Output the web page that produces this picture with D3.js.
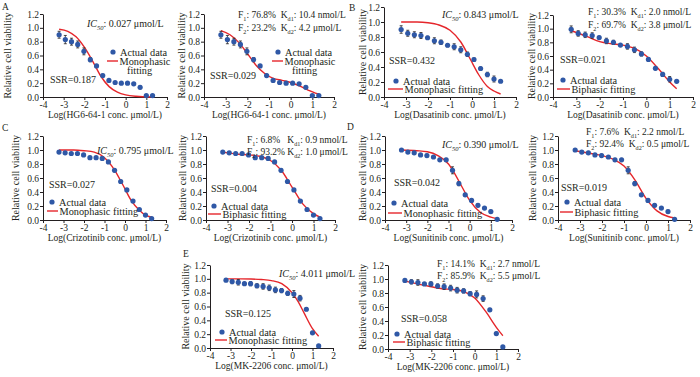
<!DOCTYPE html>
<html>
<head>
<meta charset="utf-8">
<script src="https://cdn.jsdelivr.net/npm/d3@7"></script>
<style>
body { margin: 0; background: #fff; }
text { font-family: "Liberation Serif", "Times New Roman", serif; fill: #231f20; }
</style>
</head>
<body>
<svg id="chart" width="700" height="377"></svg>
<script>
// log10 of concentration (umol/L), 2-fold dilutions
const logConc = [-3.22, -2.92, -2.62, -2.32, -2.02, -1.71, -1.41, -1.11, -0.81, -0.51, -0.21, 0.09, 0.39, 0.70, 1.00, 1.30];
const xTicks = [-4, -3, -2, -1, 0, 1, 2];
const yTicks = [0, 0.2, 0.4, 0.6, 0.8, 1.0, 1.2];

// HG6-64-1
const hgViability = [0.90, 0.83, 0.80, 0.76, 0.66, 0.54, 0.45, 0.31, 0.24, 0.21, 0.20, 0.20, 0.19, 0.14, 0.02, 0.02];
const hgError = [0.05, 0.06, 0.05, 0.05, 0.05, 0.03, 0.02, 0.02, 0.01, 0.01, 0.01, 0.01, 0.01, 0.02, 0.01, 0.01];
const hgMonoFit = [[-3.22, 0.98], [-2.8, 0.95], [-2.4, 0.87], [-2.0, 0.72], [-1.6, 0.52], [-1.2, 0.30], [-0.8, 0.15], [-0.4, 0.07], [0, 0.03], [0.5, 0.01], [1.3, 0.0]];
const hgBiFit = [[-3.22, 0.96], [-2.8, 0.90], [-2.4, 0.79], [-2.0, 0.63], [-1.6, 0.46], [-1.2, 0.34], [-0.8, 0.27], [-0.4, 0.24], [0, 0.21], [0.4, 0.16], [0.8, 0.10], [1.3, 0.04]];

// Dasatinib (the biphasic panel is drawn on a shorter axis, values read from it)
const dasViability = [0.90, 0.85, 0.83, 0.82, 0.79, 0.75, 0.73, 0.69, 0.67, 0.63, 0.57, 0.50, 0.38, 0.30, 0.24, 0.21];
const dasError = [0.05, 0.04, 0.04, 0.04, 0.02, 0.04, 0.03, 0.02, 0.04, 0.04, 0.03, 0.02, 0.02, 0.03, 0.04, 0.01];
const dasMonoFit = [[-3.22, 1.0], [-2.5, 1.0], [-2.0, 0.99], [-1.5, 0.96], [-1.0, 0.89], [-0.5, 0.73], [-0.07, 0.5], [0.3, 0.30], [0.7, 0.14], [1.0, 0.08], [1.3, 0.04]];
const das2Viability = [0.99, 0.93, 0.91, 0.90, 0.87, 0.82, 0.80, 0.76, 0.74, 0.69, 0.63, 0.55, 0.42, 0.33, 0.26, 0.23];
const das2Error = [0.05, 0.04, 0.04, 0.04, 0.02, 0.04, 0.03, 0.02, 0.04, 0.04, 0.03, 0.02, 0.02, 0.03, 0.04, 0.01];
const dasBiFit = [[-3.22, 0.97], [-2.5, 0.88], [-2.0, 0.81], [-1.5, 0.78], [-1.0, 0.76], [-0.5, 0.71], [0, 0.60], [0.5, 0.42], [1.0, 0.22], [1.3, 0.12]];

// Crizotinib
const crizViability = [0.97, 0.96, 0.95, 0.95, 0.93, 0.89, 0.89, 0.88, 0.83, 0.71, 0.55, 0.43, 0.27, 0.15, 0.07, 0.02];
const crizError = [0.01, 0.01, 0.01, 0.01, 0.01, 0.02, 0.01, 0.02, 0.02, 0.02, 0.02, 0.01, 0.01, 0.01, 0.01, 0.01];
const crizMonoFit = [[-3.22, 1.0], [-2.5, 1.0], [-2.0, 0.99], [-1.5, 0.97], [-1.0, 0.89], [-0.5, 0.71], [-0.1, 0.5], [0.3, 0.28], [0.7, 0.14], [1.0, 0.07], [1.3, 0.04]];
const crizBiFit = [[-3.22, 0.97], [-2.5, 0.94], [-2.0, 0.93], [-1.5, 0.91], [-1.0, 0.85], [-0.5, 0.71], [0, 0.47], [0.5, 0.23], [1.0, 0.09], [1.3, 0.04]];

// Sunitinib
const suniViability = [1.0, 0.97, 0.96, 0.93, 0.92, 0.90, 0.86, 0.86, 0.71, 0.52, 0.36, 0.28, 0.21, 0.17, 0.12, 0.01];
const suniError = [0.01, 0.02, 0.02, 0.02, 0.02, 0.02, 0.02, 0.02, 0.05, 0.03, 0.02, 0.02, 0.02, 0.02, 0.02, 0.01];
const suniMonoFit = [[-3.22, 1.0], [-2.5, 0.99], [-2.0, 0.975], [-1.5, 0.92], [-1.0, 0.80], [-0.7, 0.66], [-0.41, 0.5], [0, 0.28], [0.5, 0.11], [1.0, 0.04], [1.3, 0.02]];
const suniBiFit = [[-3.22, 0.99], [-2.5, 0.95], [-2.0, 0.92], [-1.5, 0.87], [-1.0, 0.77], [-0.5, 0.57], [0, 0.31], [0.5, 0.13], [1.0, 0.05], [1.3, 0.03]];

// MK-2206
const mkViability = [0.98, 0.96, 0.95, 0.93, 0.93, 0.90, 0.89, 0.87, 0.84, 0.83, 0.79, 0.78, 0.72, 0.56, 0.22, 0.03];
const mkError = [0.01, 0.03, 0.04, 0.02, 0.03, 0.03, 0.04, 0.04, 0.04, 0.03, 0.03, 0.05, 0.04, 0.02, 0.02, 0.01];
const mkMonoFit = [[-3.22, 1.0], [-2.5, 1.0], [-2.0, 0.997], [-1.5, 0.99], [-1.0, 0.975], [-0.5, 0.93], [0, 0.80], [0.3, 0.67], [0.6, 0.5], [1.0, 0.28], [1.3, 0.17]];
const mkBiFit = [[-3.22, 0.97], [-2.5, 0.92], [-2.0, 0.89], [-1.5, 0.86], [-1.0, 0.85], [-0.5, 0.82], [0, 0.73], [0.5, 0.54], [1.0, 0.31], [1.3, 0.19]];

const NB = "\u00a0";

// layout of every panel: axis box, label positions
const panels = [
  { letter: "A", lp: [2, 10], xl: 43, xr: 167, yt: 14, yb: 97, ytx: 7,
    vals: hgViability, err: hgError, fit: hgMonoFit, drug: "HG6-64-1",
    notes: [[87, 27, [{ t: "IC", it: 1 }, { t: "50", sub: 1, it: 1 }, { t: ": 0.027 μmol/L" }]]],
    ssr: [50, 83, "SSR=0.187"], leg: [113, 52, 107, 118, 61], fitLabel: ["Monophasic", "fitting"] },
  { xl: 204, xr: 334, yt: 14, yb: 97, ytx: 181,
    vals: hgViability, err: hgError, fit: hgBiFit, drug: "HG6-64-1",
    notes: [[238, 18, [{ t: "F" }, { t: "1", sub: 1 }, { t: ": 76.8%" + NB + NB + "K" }, { t: "d1", sub: 1 }, { t: ": 10.4 nmol/L" }]],
            [238, 31, [{ t: "F" }, { t: "2", sub: 1 }, { t: ": 23.2%" + NB + NB + "K" }, { t: "d2", sub: 1 }, { t: ": 4.2 μmol/L" }]]],
    ssr: [210, 79, "SSR=0.029"], leg: [278, 52, 272, 283, 61], fitLabel: ["Monophasic", "fitting"] },
  { letter: "B", lp: [349, 11], xl: 384, xr: 516, yt: 7, yb: 97, ytx: 362,
    vals: dasViability, err: dasError, fit: dasMonoFit, drug: "Dasatinib",
    notes: [[442, 18, [{ t: "IC", it: 1 }, { t: "50", sub: 1, it: 1 }, { t: ": 0.843 μmol/L" }]]],
    ssr: [389, 64, "SSR=0.432"], leg: [396, 81, 388, 403, 89], fitLabel: ["Monophasic fitting"] },
  { xl: 553, xr: 693, yt: 15, yb: 97, ytx: 531,
    vals: das2Viability, err: das2Error, fit: dasBiFit, drug: "Dasatinib",
    notes: [[588, 15, [{ t: "F" }, { t: "1", sub: 1 }, { t: ": 30.3%" + NB + NB + "K" }, { t: "d1", sub: 1 }, { t: ": 2.0 nmol/L" }]],
            [588, 28, [{ t: "F" }, { t: "2", sub: 1 }, { t: ": 69.7%" + NB + NB + "K" }, { t: "d2", sub: 1 }, { t: ": 3.8 μmol/L" }]]],
    ssr: [560, 63, "SSR=0.021"], leg: [563, 80, 557, 570, 89], fitLabel: ["Biphasic fitting"] },
  { letter: "C", lp: [2, 131], xl: 43, xr: 166, yt: 136, yb: 220, ytx: 15,
    vals: crizViability, err: crizError, fit: crizMonoFit, drug: "Crizotinib",
    notes: [[97, 154, [{ t: "IC", it: 1 }, { t: "50", sub: 1, it: 1 }, { t: ": 0.795 μmol/L" }]]],
    ssr: [49, 188, "SSR=0.027"], leg: [52, 202, 47, 58, 211], fitLabel: ["Monophasic fitting"] },
  { xl: 206, xr: 335, yt: 136, yb: 220, ytx: 182,
    vals: crizViability, err: crizError, fit: crizBiFit, drug: "Crizotinib",
    notes: [[247, 143, [{ t: "F" }, { t: "1", sub: 1 }, { t: ": 6.8%" + NB + NB + NB + "K" }, { t: "d1", sub: 1 }, { t: ": 0.9 nmol/L" }]],
            [247, 155, [{ t: "F" }, { t: "2", sub: 1 }, { t: ": 93.2% K" }, { t: "d2", sub: 1 }, { t: ": 1.0 μmol/L" }]]],
    ssr: [211, 192, "SSR=0.004"], leg: [214, 206, 208, 221, 214], fitLabel: ["Biphasic fitting"] },
  { letter: "D", lp: [347, 130], xl: 385, xr: 512, yt: 136, yb: 220, ytx: 362,
    vals: suniViability, err: suniError, fit: suniMonoFit, drug: "Sunitinib",
    notes: [[442, 148, [{ t: "IC", it: 1 }, { t: "50", sub: 1, it: 1 }, { t: ": 0.390 μmol/L" }]]],
    ssr: [394, 186, "SSR=0.042"], leg: [394, 203, 388, 402, 213], fitLabel: ["Monophasic fitting"] },
  { xl: 558, xr: 690, yt: 136, yb: 220, ytx: 532,
    vals: suniViability, err: suniError, fit: suniBiFit, drug: "Sunitinib",
    notes: [[586, 135, [{ t: "F" }, { t: "1", sub: 1 }, { t: ": 7.6%" + NB + NB + "K" }, { t: "d1", sub: 1 }, { t: ": 2.2 nmol/L" }]],
            [586, 147, [{ t: "F" }, { t: "2", sub: 1 }, { t: ": 92.4%" + NB + NB + "K" }, { t: "d2", sub: 1 }, { t: ": 0.5 μmol/L" }]]],
    ssr: [561, 191, "SSR=0.019"], leg: [567, 202, 560, 573, 212], fitLabel: ["Biphasic fitting"] },
  { letter: "E", lp: [183, 257], xl: 210, xr: 333, yt: 265, yb: 348, ytx: 185,
    vals: mkViability, err: mkError, fit: mkMonoFit, drug: "MK-2206",
    notes: [[279, 277, [{ t: "IC", it: 1 }, { t: "50", sub: 1, it: 1 }, { t: ": 4.011 μmol/L" }]]],
    ssr: [225, 317, "SSR=0.125"], leg: [222, 332, 215, 227, 340], fitLabel: ["Monophasic fitting"] },
  { xl: 388, xr: 518, yt: 265, yb: 349, ytx: 362,
    vals: mkViability, err: mkError, fit: mkBiFit, drug: "MK-2206",
    notes: [[437, 267, [{ t: "F" }, { t: "1", sub: 1 }, { t: ": 14.1%" + NB + NB + "K" }, { t: "d1", sub: 1 }, { t: ": 2.7 nmol/L" }]],
            [437, 279, [{ t: "F" }, { t: "2", sub: 1 }, { t: ": 85.9%" + NB + NB + "K" }, { t: "d2", sub: 1 }, { t: ": 5.5 μmol/L" }]]],
    ssr: [401, 322, "SSR=0.058"], leg: [397, 334, 393, 405, 342], fitLabel: ["Biphasic fitting"] }
];

const BLUE = "#2f58a6";
const RED = "#e5262b";
const svg = d3.select("#chart");

// text with italic / subscript pieces
function richText(g, x, y, parts, size) {
  const t = g.append("text").attr("x", x).attr("y", y).attr("font-size", size);
  let shifted = false;
  parts.forEach(p => {
    const s = t.append("tspan").text(p.t);
    if (p.it) s.attr("font-style", "italic");
    if (p.sub && !shifted) { s.attr("dy", 2.5).attr("font-size", size * 0.65); shifted = true; }
    else if (p.sub) { s.attr("font-size", size * 0.65); }
    else if (shifted) { s.attr("dy", -2.5); shifted = false; }
  });
}

function drawPanel(p) {
  const x = d3.scaleLinear().domain([-4, 2]).range([p.xl, p.xr]);
  const y = d3.scaleLinear().domain([0, 1.2]).range([p.yb, p.yt]);
  const g = svg.append("g");

  const xAxis = g.append("g").attr("transform", `translate(0,${p.yb})`)
    .call(d3.axisBottom(x).tickValues(xTicks).tickSize(3).tickSizeOuter(0).tickPadding(1).tickFormat(d => d));
  const yAxis = g.append("g").attr("transform", `translate(${p.xl},0)`)
    .call(d3.axisLeft(y).tickValues(yTicks).tickSize(3).tickSizeOuter(0).tickPadding(1).tickFormat(d3.format(".1f")));
  [xAxis, yAxis].forEach(a => {
    a.select(".domain").attr("stroke", "#231f20").attr("stroke-width", 1);
    a.selectAll(".tick line").attr("stroke", "#231f20");
    a.selectAll("text").attr("font-family", "Liberation Serif").attr("font-size", 9.5).attr("fill", "#231f20");
  });

  g.append("text")
    .attr("x", (p.xl + p.xr) / 2).attr("y", p.yb + 21)
    .attr("text-anchor", "middle").attr("font-size", 9.5)
    .text(`Log(${p.drug} conc. μmol/L)`);

  g.append("text")
    .attr("transform", `translate(${p.ytx},${(p.yt + p.yb) / 2}) rotate(-90)`)
    .attr("text-anchor", "middle").attr("dy", "0.35em").attr("font-size", 10)
    .text("Relative cell viability");

  if (p.letter) {
    g.append("text").attr("x", p.lp[0]).attr("y", p.lp[1]).attr("font-size", 9.5).text(p.letter);
  }

  // fitted curve
  g.append("path")
    .datum(p.fit)
    .attr("fill", "none").attr("stroke", RED).attr("stroke-width", 1.4)
    .attr("d", d3.line().x(d => x(d[0])).y(d => y(d[1])).curve(d3.curveMonotoneX));

  // data points with error bars
  const pts = logConc.map((c, i) => ({ c, v: p.vals[i], e: p.err[i] }));
  const eb = g.append("g").attr("stroke", "#231f20").attr("stroke-width", 0.8);
  pts.forEach(d => {
    eb.append("line").attr("x1", x(d.c)).attr("x2", x(d.c)).attr("y1", y(d.v - d.e)).attr("y2", y(d.v + d.e));
    eb.append("line").attr("x1", x(d.c) - 1.5).attr("x2", x(d.c) + 1.5).attr("y1", y(d.v + d.e)).attr("y2", y(d.v + d.e));
    eb.append("line").attr("x1", x(d.c) - 1.5).attr("x2", x(d.c) + 1.5).attr("y1", y(d.v - d.e)).attr("y2", y(d.v - d.e));
  });
  g.selectAll("circle.pt").data(pts).join("circle")
    .attr("class", "pt")
    .attr("cx", d => x(d.c)).attr("cy", d => y(d.v)).attr("r", 2.6)
    .attr("fill", BLUE);

  // annotations
  p.notes.forEach(n => richText(g, n[0], n[1], n[2], n[2][0].t === "F" ? 9.5 : 10));
  g.append("text").attr("x", p.ssr[0]).attr("y", p.ssr[1]).attr("font-size", 10).text(p.ssr[2]);

  // legend
  const [dx, dy, lx0, lx1, ly] = p.leg;
  g.append("circle").attr("cx", dx).attr("cy", dy).attr("r", 2.6).attr("fill", BLUE);
  g.append("text").attr("x", dx + 7).attr("y", dy + 3.5).attr("font-size", 10.3).text("Actual data");
  g.append("line").attr("x1", lx0).attr("x2", lx1).attr("y1", ly).attr("y2", ly)
    .attr("stroke", RED).attr("stroke-width", 1.4);
  g.append("text").attr("x", lx1 + 1.5).attr("y", ly + 3.5).attr("font-size", 10.3).text(p.fitLabel[0]);
  if (p.fitLabel[1]) {
    g.append("text").attr("x", lx1 + 9).attr("y", ly + 12.5).attr("font-size", 10.3).text(p.fitLabel[1]);
  }
}

panels.forEach(drawPanel);
</script>
</body>
</html>
